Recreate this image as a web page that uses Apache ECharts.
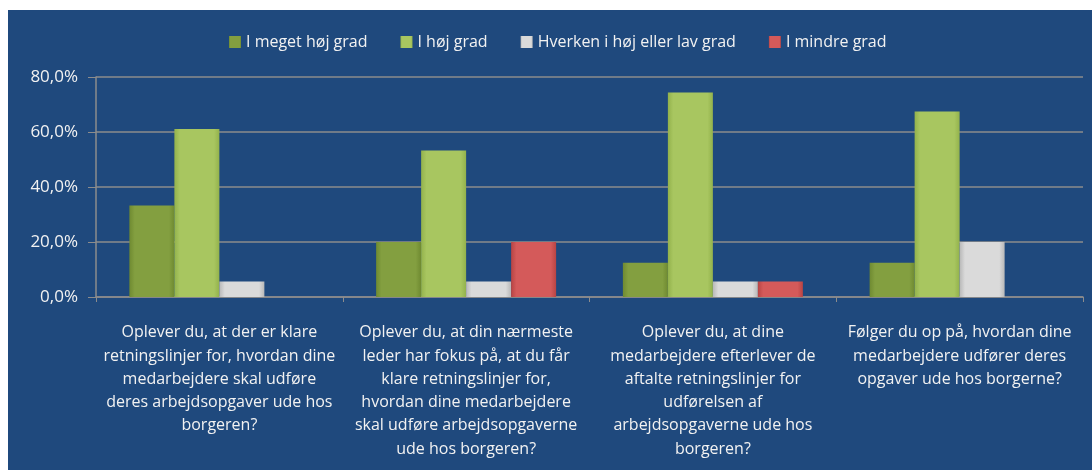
<!DOCTYPE html>
<html>
<head>
<meta charset="utf-8">
<script src="https://cdn.jsdelivr.net/npm/echarts@6/dist/echarts.min.js"></script>
<style>
  html, body { margin: 0; padding: 0; background: #ffffff; }
  #chart { position: absolute; left: 8px; top: 10px; width: 1084px; height: 460px; }
</style>
</head>
<body>
<div id="chart"></div>
<script>
// spørgsmål (x-akse)
var categories = [
  "Oplever du, at der er klare\nretningslinjer for, hvordan dine\nmedarbejdere skal udføre\nderes arbejdsopgaver ude hos\nborgeren?",
  "Oplever du, at din nærmeste\nleder har fokus på, at du får\nklare retningslinjer for,\nhvordan dine medarbejdere\nskal udføre arbejdsopgaverne\nude hos borgeren?",
  "Oplever du, at dine\nmedarbejdere efterlever de\naftalte retningslinjer for\nudførelsen af\narbejdsopgaverne ude hos\nborgeren?",
  "Følger du op på, hvordan dine\nmedarbejdere udfører deres\nopgaver ude hos borgerne?"
];
var seriesNames = ["I meget høj grad", "I høj grad", "Hverken i høj eller lav grad", "I mindre grad"];
var megetHoej = [33.3, 20.0, 12.5, 12.5];
var hoej = [61.1, 53.3, 74.4, 67.5];
var hverken = [5.6, 5.6, 5.6, 20.0];
var mindre = [0, 20.0, 5.6, 0];
var yTicks = [0, 20, 40, 60, 80];

var colors = [
  ["#6f8a31", "#839f40"],
  ["#93b24c", "#a8c660"],
  ["#b8b8b8", "#dadada"],
  ["#b84444", "#d45a5a"]
];

function barFill(c) {
  return new echarts.graphic.LinearGradient(0, 0, 1, 0, [
    { offset: 0, color: c[0] },
    { offset: 0.12, color: c[1] },
    { offset: 0.88, color: c[1] },
    { offset: 1, color: c[0] }
  ]);
}

var chart = echarts.init(document.getElementById("chart"));
var allData = [megetHoej, hoej, hverken, mindre];

chart.setOption({
  backgroundColor: "#1f497d",
  textStyle: { fontFamily: "'Open Sans', sans-serif" },
  legend: {
    top: 19,
    left: 216,
    itemWidth: 12,
    itemHeight: 12,
    itemGap: 33,
    itemTextGap: 3,
    icon: "rect",
    textStyle: { color: "#f2f2f2", fontSize: 16 },
    data: seriesNames
  },
  grid: { left: 88, right: 9, top: 67, bottom: 173 },
  xAxis: {
    type: "category",
    data: categories,
    axisLine: { lineStyle: { color: "#8c8c8c", width: 1.5 } },
    axisTick: { show: true, length: 5, lineStyle: { color: "#8c8c8c" } },
    axisLabel: {
      interval: 0,
      color: "#f2f2f2",
      fontSize: 16,
      lineHeight: 23.3,
      margin: 24,
      align: "center"
    }
  },
  yAxis: {
    type: "value",
    min: yTicks[0],
    max: yTicks[yTicks.length - 1],
    interval: 20,
    axisLine: { show: true, lineStyle: { color: "#8c8c8c", width: 1.5 } },
    axisTick: { show: true, inside: false, length: 8, lineStyle: { color: "#8c8c8c" } },
    splitLine: { lineStyle: { color: "#8c8c8c", width: 1.5 } },
    axisLabel: {
      color: "#f2f2f2",
      fontSize: 17,
      margin: 18,
      formatter: function (v) { return v.toFixed(1).replace(".", ",") + "%"; }
    }
  },
  series: seriesNames.map(function (name, i) {
    return {
      name: name,
      type: "bar",
      data: allData[i],
      barWidth: 45,
      barGap: "0%",
      itemStyle: { color: barFill(colors[i]) }
    };
  })
});
</script>
</body>
</html>
